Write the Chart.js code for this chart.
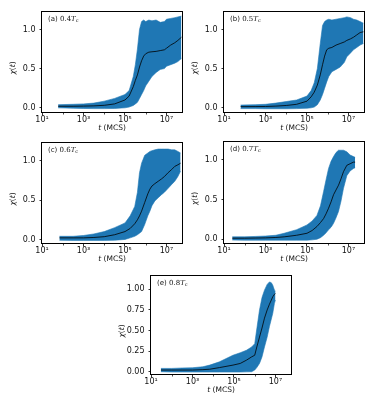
<!DOCTYPE html>
<html><head><meta charset="utf-8">
<script src="https://cdn.jsdelivr.net/npm/chart.js@4.4.0/dist/chart.umd.min.js"></script>
<style>
html,body{margin:0;padding:0;background:#fff;width:374px;height:408px;overflow:hidden;position:relative}
canvas{position:absolute}
</style></head><body>
<script>
// ---------------- DATA ----------------
const panelTags = ['(a)', '(b)', '(c)', '(d)', '(e)'];
const tempFactors = ['0.4', '0.5', '0.6', '0.7', '0.8'];

const xTickValues = [10, 1e3, 1e5, 1e7];
const xTickLabels = ['10¹', '10³', '10⁵', '10⁷'];
const xMinorTicks = [100, 1e4, 1e6];

const yTickValues = [0, 0.5, 1.0];
const yTickLabels = ['0.0', '0.5', '1.0'];
const yTickValuesE = [0, 0.25, 0.5, 0.75, 1.0];
const yTickLabelsE = ['0.00', '0.25', '0.50', '0.75', '1.00'];

// (a) 0.4 Tc
const tA = [60, 316, 1000, 3162, 10000, 31623, 100000, 158489, 251189, 316228, 398107, 501187, 630957, 794328, 1000000, 1412538, 1995262, 3162278, 5011872, 7943282, 10000000, 15848932, 25118864, 35481339, 52480746];
const upA = [0.04, 0.045, 0.05, 0.06, 0.085, 0.12, 0.17, 0.22, 0.40, 0.55, 0.75, 1.00, 1.10, 1.12, 1.10, 1.12, 1.11, 1.12, 1.09, 1.10, 1.13, 1.14, 1.15, 1.16, 1.17];
const loA = [0.00, -0.005, -0.008, -0.01, -0.01, -0.008, 0.0, 0.01, 0.03, 0.05, 0.07, 0.12, 0.17, 0.22, 0.28, 0.34, 0.40, 0.45, 0.49, 0.50, 0.53, 0.55, 0.57, 0.59, 0.63];
const meanA = [0.02, 0.02, 0.022, 0.025, 0.032, 0.05, 0.10, 0.15, 0.27, 0.35, 0.42, 0.52, 0.60, 0.66, 0.69, 0.71, 0.715, 0.72, 0.73, 0.74, 0.76, 0.80, 0.83, 0.86, 0.90];

// (b) 0.5 Tc
const tB = [63, 316, 1000, 3162, 10000, 31623, 100000, 158489, 223872, 316228, 436516, 562341, 707946, 891251, 1122018, 1584893, 2511886, 3981072, 6309573, 8317638, 12589254, 17378008, 25118864, 36307805, 52480746];
const upB = [0.035, 0.04, 0.045, 0.06, 0.08, 0.10, 0.15, 0.22, 0.32, 0.50, 0.82, 1.05, 1.10, 1.12, 1.13, 1.12, 1.13, 1.14, 1.15, 1.16, 1.15, 1.13, 1.12, 1.10, 1.08];
const loB = [-0.01, -0.01, -0.012, -0.012, -0.012, -0.01, -0.005, 0.0, 0.01, 0.04, 0.10, 0.17, 0.25, 0.33, 0.40, 0.46, 0.49, 0.52, 0.58, 0.65, 0.70, 0.74, 0.77, 0.80, 0.82];
const meanB = [0.015, 0.016, 0.017, 0.022, 0.03, 0.045, 0.085, 0.14, 0.20, 0.29, 0.42, 0.55, 0.66, 0.74, 0.76, 0.77, 0.80, 0.82, 0.84, 0.86, 0.88, 0.90, 0.93, 0.96, 0.97];

// (c) 0.6 Tc
const tC = [69, 316, 1000, 3162, 10000, 31623, 100000, 177828, 295121, 398107, 501187, 630957, 891251, 1258925, 1584893, 1995262, 2754229, 3981072, 5754399, 7943282, 12022644, 17782794, 25118864, 35481339, 47863009];
const upC = [0.04, 0.04, 0.05, 0.07, 0.10, 0.15, 0.21, 0.30, 0.42, 0.60, 0.85, 0.97, 1.07, 1.10, 1.12, 1.13, 1.14, 1.15, 1.15, 1.15, 1.15, 1.14, 1.14, 1.12, 1.10];
const loC = [-0.01, -0.012, -0.012, -0.012, -0.012, -0.01, 0.0, 0.02, 0.04, 0.06, 0.08, 0.10, 0.19, 0.30, 0.36, 0.43, 0.49, 0.53, 0.57, 0.60, 0.65, 0.70, 0.74, 0.80, 0.87];
const meanC = [0.02, 0.02, 0.02, 0.025, 0.035, 0.06, 0.10, 0.14, 0.20, 0.25, 0.30, 0.36, 0.47, 0.58, 0.64, 0.68, 0.71, 0.74, 0.77, 0.80, 0.85, 0.89, 0.93, 0.95, 0.97];

// (d) 0.7 Tc
const tD = [25, 100, 316, 1000, 3162, 7943, 31623, 100000, 177828, 301995, 446684, 630957, 831764, 1096478, 1445440, 1905461, 2511886, 3311311, 4365158, 5754399, 8317638, 12022644, 17378008, 20892961];
const upD = [0.03, 0.03, 0.035, 0.04, 0.05, 0.075, 0.12, 0.18, 0.23, 0.30, 0.42, 0.60, 0.75, 0.89, 0.98, 1.04, 1.09, 1.12, 1.12, 1.12, 1.10, 1.06, 1.04, 1.03];
const loD = [-0.01, -0.012, -0.012, -0.012, -0.012, -0.012, -0.012, -0.012, -0.008, 0.0, 0.02, 0.05, 0.08, 0.12, 0.15, 0.20, 0.27, 0.35, 0.48, 0.64, 0.80, 0.86, 0.89, 0.90];
const meanD = [0.013, 0.013, 0.015, 0.017, 0.022, 0.03, 0.05, 0.075, 0.11, 0.16, 0.21, 0.26, 0.32, 0.39, 0.47, 0.56, 0.62, 0.68, 0.76, 0.85, 0.93, 0.95, 0.97, 0.97];

// (e) 0.8 Tc
const tE = [30, 100, 316, 1000, 3162, 6761, 19953, 89125, 199526, 398107, 707946, 1000000, 1258925, 1698244, 2238721, 2951209, 3981072, 5128614, 6309573, 7413102, 8912509, 10000000];
const upE = [0.04, 0.04, 0.045, 0.048, 0.06, 0.08, 0.12, 0.20, 0.23, 0.26, 0.30, 0.34, 0.52, 0.75, 0.90, 0.99, 1.06, 1.09, 1.08, 1.05, 0.99, 0.98];
const loE = [0.0, -0.004, -0.004, -0.004, -0.004, -0.004, -0.004, -0.004, -0.004, -0.002, 0.0, 0.02, 0.05, 0.10, 0.18, 0.30, 0.42, 0.55, 0.64, 0.71, 0.83, 0.87];
const meanE = [0.02, 0.02, 0.02, 0.02, 0.025, 0.03, 0.05, 0.08, 0.10, 0.14, 0.18, 0.20, 0.30, 0.42, 0.53, 0.65, 0.75, 0.82, 0.87, 0.91, 0.94, 0.95];

// ---------------- LAYOUT / STYLE ----------------
const BLUE = '#1f77b4';
const PAD_L = 44, PAD_T = 11, PAD_R = 10, PAD_B = 32;
const X_MIN = 10, X_MAX = 5.6e7;
const FS = 8;

const panels = [
  {tag: panelTags[0], temp: tempFactors[0], t: tA, up: upA, lo: loA, mean: meanA, box: [42, 11, 140, 102], yr: [-0.066, 1.235], yv: yTickValues, yl: yTickLabels},
  {tag: panelTags[1], temp: tempFactors[1], t: tB, up: upB, lo: loB, mean: meanB, box: [224, 11, 140, 102], yr: [-0.066, 1.235], yv: yTickValues, yl: yTickLabels},
  {tag: panelTags[2], temp: tempFactors[2], t: tC, up: upC, lo: loC, mean: meanC, box: [42, 142, 140, 102], yr: [-0.058, 1.24], yv: yTickValues, yl: yTickLabels},
  {tag: panelTags[3], temp: tempFactors[3], t: tD, up: upD, lo: loD, mean: meanD, box: [224, 141, 140, 103], yr: [-0.06, 1.236], yv: yTickValues, yl: yTickLabels},
  {tag: panelTags[4], temp: tempFactors[4], t: tE, up: upE, lo: loE, mean: meanE, box: [151, 275, 140, 100], yr: [-0.04, 1.174], yv: yTickValuesE, yl: yTickLabelsE},
];

const decor = {
  id: 'decor',
  afterDraw(chart, args, o) {
    const ctx = chart.ctx, a = chart.chartArea;
    ctx.save();
    ctx.strokeStyle = '#000';
    const xs = chart.scales.x;
    ctx.lineWidth = 0.7;
    for (const v of xMinorTicks) {
      const px = Math.round(xs.getPixelForValue(v)) + 0.5;
      ctx.beginPath(); ctx.moveTo(px, a.bottom); ctx.lineTo(px, a.bottom + 1.5); ctx.stroke();
    }
    ctx.lineWidth = 1;
    ctx.strokeRect(Math.round(a.left) - 0.5, Math.round(a.top) + 0.5, Math.round(a.right - a.left) + 1, Math.round(a.bottom - a.top) - 1);
    ctx.fillStyle = '#111';
    ctx.textBaseline = 'middle';
    ctx.textAlign = 'left';
    let x = a.left + 6, y = a.top + 8;
    ctx.font = '7px "DejaVu Sans"';
    ctx.fillText(o.tag + ' ', x, y); x += ctx.measureText(o.tag + ' ').width;
    ctx.font = '7px "DejaVu Serif"';
    ctx.fillText(o.temp, x, y); x += ctx.measureText(o.temp).width;
    ctx.font = 'italic 7px "DejaVu Serif"';
    ctx.fillText('T', x, y); x += ctx.measureText('T').width;
    ctx.font = '5px "DejaVu Serif"';
    ctx.fillText('c', x, y + 2);
    ctx.font = 'oblique 7.5px "DejaVu Sans"';
    const w1 = ctx.measureText('t').width;
    ctx.font = '7.5px "DejaVu Sans"';
    const w2 = ctx.measureText(' (MCS)').width;
    let cx = (a.left + a.right) / 2 - (w1 + w2) / 2, cy = a.bottom + 15;
    ctx.font = 'oblique 7.5px "DejaVu Sans"'; ctx.fillText('t', cx, cy);
    ctx.font = '7.5px "DejaVu Sans"'; ctx.fillText(' (MCS)', cx + w1, cy);
    ctx.translate(a.left - 29, (a.top + a.bottom) / 2 + 6);
    ctx.rotate(-Math.PI / 2);
    const parts = [['χ', 'oblique'], ['(', ''], ['t', 'oblique'], [')', '']];
    let tw = 0;
    for (const [s, st] of parts) { ctx.font = (st ? st + ' ' : '') + '7.5px "DejaVu Sans"'; tw += ctx.measureText(s).width; }
    let px = -tw / 2;
    for (const [s, st] of parts) { ctx.font = (st ? st + ' ' : '') + '7.5px "DejaVu Sans"'; ctx.fillText(s, px, 0); px += ctx.measureText(s).width; }
    ctx.restore();
  }
};

panels.forEach((p) => {
  const [bx, by, bw, bh] = p.box;
  const cv = document.createElement('canvas');
  const W = bw + PAD_L + PAD_R, H = bh + PAD_T + PAD_B;
  cv.width = W; cv.height = H;
  cv.style.left = (bx - PAD_L) + 'px'; cv.style.top = (by - PAD_T) + 'px';
  cv.style.width = W + 'px'; cv.style.height = H + 'px';
  document.body.appendChild(cv);
  const mk = (arr) => p.t.map((t, i) => ({x: t, y: arr[i]}));
  new Chart(cv, {
    type: 'line',
    data: {
      datasets: [
        {data: mk(p.mean), borderColor: '#000', borderWidth: 0.8, pointRadius: 0, fill: false, tension: 0},
        {data: mk(p.up), borderColor: BLUE, backgroundColor: BLUE, borderWidth: 0.6, pointRadius: 0, fill: '+1', tension: 0},
        {data: mk(p.lo), borderColor: BLUE, backgroundColor: BLUE, borderWidth: 0.6, pointRadius: 0, fill: false, tension: 0},
      ]
    },
    options: {
      responsive: false, animation: false, devicePixelRatio: 1,
      layout: {padding: {left: 0, top: PAD_T, right: PAD_R, bottom: 0}},
      plugins: {legend: {display: false}, tooltip: {enabled: false},
        decor: {tag: p.tag, temp: p.temp}},
      scales: {
        x: {
          type: 'logarithmic', min: X_MIN, max: X_MAX,
          afterFit: (s) => { s.height = PAD_B; },
          afterBuildTicks: (s) => { s.ticks = xTickValues.map(v => ({value: v})); },
          border: {display: false},
          grid: {drawOnChartArea: false, drawTicks: true, tickLength: 2.5, tickColor: '#000', lineWidth: 0.8},
          ticks: {autoSkip: false, maxRotation: 0, padding: 0, color: '#111',
            font: {family: 'DejaVu Sans', size: FS},
            callback: (v) => { const i = xTickValues.indexOf(v); return i >= 0 ? xTickLabels[i] : ''; }}
        },
        y: {
          type: 'linear', min: p.yr[0], max: p.yr[1],
          afterFit: (s) => { s.width = PAD_L; },
          afterBuildTicks: (s) => { s.ticks = p.yv.map(v => ({value: v})); },
          border: {display: false},
          grid: {drawOnChartArea: false, drawTicks: true, tickLength: 2.5, tickColor: '#000', lineWidth: 0.8},
          ticks: {autoSkip: false, padding: 4, color: '#111',
            font: {family: 'DejaVu Sans', size: FS},
            callback: (v) => { const i = p.yv.indexOf(v); return i >= 0 ? p.yl[i] : ''; }}
        }
      }
    },
    plugins: [decor]
  });
});
</script>
</body></html>
